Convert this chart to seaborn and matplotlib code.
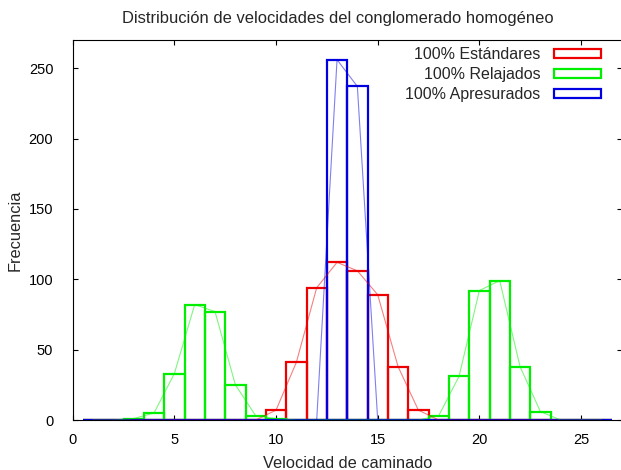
import matplotlib
matplotlib.use("Agg")
import matplotlib.pyplot as plt
from matplotlib.patches import Patch
import seaborn as sns
import pandas as pd

# ---- data ----
velocidad = [1, 2, 3, 4, 5, 6, 7, 8, 9, 10, 11, 12, 13,
             14, 15, 16, 17, 18, 19, 20, 21, 22, 23, 24, 25, 26]
estandares = [0, 0, 0, 0, 0, 0, 0, 0, 0, 7, 41, 94, 112,
              106, 89, 38, 7, 0, 0, 0, 0, 0, 0, 0, 0, 0]
relajados = [0, 0, 1, 5, 33, 82, 77, 25, 3, 1, 0, 0, 0,
             0, 0, 0, 0, 3, 31, 92, 99, 38, 6, 0, 0, 0]
apresurados = [0, 0, 0, 0, 0, 0, 0, 0, 0, 0, 0, 0, 256,
               237, 0, 0, 0, 0, 0, 0, 0, 0, 0, 0, 0, 0]
series_labels = ["100% Estándares", "100% Relajados", "100% Apresurados"]
series_colors = ["#ee0000", "#00ee00", "#0000e0"]
title = "Distribución de velocidades del conglomerado homogéneo"
xlabel = "Velocidad de caminado"
ylabel = "Frecuencia"
xticks = [0, 5, 10, 15, 20, 25]
yticks = [0, 50, 100, 150, 200, 250]

sns.set_style("ticks")
plt.rcParams["font.family"] = ["Liberation Sans", "DejaVu Sans"]

W, H = 621, 470
fig = plt.figure(figsize=(W / 100, H / 100), dpi=100)
left_px, right_px, top_px, bottom_px = 72.7, 621.7, 40, 420
ax = fig.add_axes([left_px / W, 1 - bottom_px / H,
                   (right_px - left_px) / W, (bottom_px - top_px) / H])

all_counts = [estandares, relajados, apresurados]
for counts, color in zip(all_counts, series_colors):
    df = pd.DataFrame({"v": velocidad, "n": counts})
    sns.histplot(data=df, x="v", weights="n", discrete=True, shrink=1,
                 element="bars", fill=False, color=color, linewidth=1.6, ax=ax)
for counts, color in zip(all_counts, series_colors):
    df = pd.DataFrame({"v": velocidad, "n": counts})
    sns.lineplot(data=df, x="v", y="n", color=color, linewidth=0.8,
                 alpha=0.5, ax=ax)

ax.set_xlim(0, 27)
ax.set_ylim(0, 270)
ax.set_xticks(xticks)
ax.set_yticks(yticks)
ax.tick_params(direction="in", top=True, right=True, length=3.6,
               width=0.8, labelsize=10.5, colors="black")
ax.tick_params(axis="x", pad=9)
ax.tick_params(axis="y", pad=14)
for sp in ax.spines.values():
    sp.set_visible(True)
    sp.set_linewidth(0.8)
    sp.set_color("black")

ax.set_xlabel(xlabel, fontsize=11.8, labelpad=7)
ax.set_ylabel(ylabel, fontsize=11.8, labelpad=4.5)

fig.text(337.5 / W, 1 - 18 / H, title, ha="center", va="center", fontsize=11.9)

handles = [Patch(facecolor="none", edgecolor=c, linewidth=1.6) for c in series_colors]
ax.legend(handles, series_labels, loc="upper right", markerfirst=False,
          frameon=False, handlelength=2.94, handleheight=0.5,
          handletextpad=0.85, labelspacing=0.32, fontsize=11.5,
          borderpad=0, borderaxespad=0,
          bbox_to_anchor=(601 / W, 1 - 47 / H), bbox_transform=fig.transFigure)

fig.savefig("out.png", dpi=100)
